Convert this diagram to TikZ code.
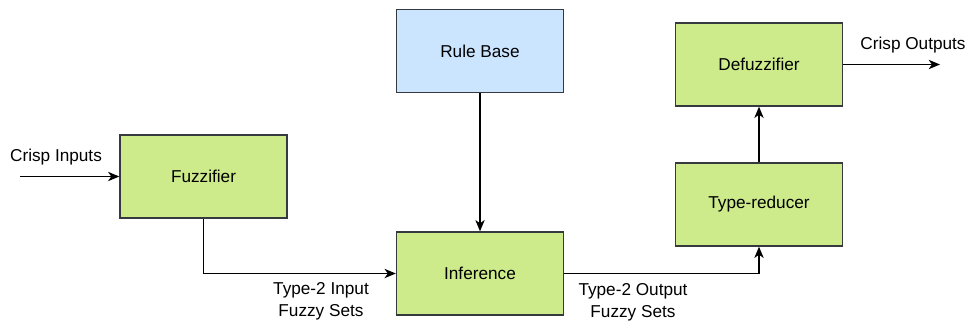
\documentclass[tikz,border=0pt]{standalone}
\usepackage{fontspec}
\setmainfont{Liberation Sans}
\usetikzlibrary{arrows.meta}
\definecolor{blockgreen}{RGB}{205,235,139}
\definecolor{blockblue}{RGB}{204,229,255}
\definecolor{blockline}{RGB}{54,57,61}
\tikzset{
  fzblock/.style={draw=blockline, line width=1pt, minimum width=125.25pt, minimum height=62.25pt, inner sep=0pt, font=\fontsize{12.9}{15}\selectfont},
  fzlabel/.style={align=center, inner sep=0pt, font=\fontsize{12.9}{16.5}\selectfont},
  fzarrow/.style={line width=1pt, -{Stealth[length=8.5pt,width=7pt,inset=2.5pt]}}
}
\begin{document}
\begin{tikzpicture}[x=0.75pt,y=0.75pt,yscale=-1,xscale=1]
\useasboundingbox (0,0) rectangle (966,325);

%Blocks
\node [fzblock, fill=blockgreen] (fuzz) at (203.5,176.5) {Fuzzifier};
\node [fzblock, fill=blockblue] (rules) at (480,51) {Rule Base};
\node [fzblock, fill=blockgreen] (infer) at (480,273.5) {Inference};
\node [fzblock, fill=blockgreen] (reduce) at (759,204.5) {Type-reducer};
\node [fzblock, fill=blockgreen] (defuzz) at (759,64.5) {Defuzzifier};

%Free ends
\coordinate (in) at (20,176.5);
\coordinate (out) at (940,64.5);

%Labels
\node [fzlabel] (inlabel) at (56,157) {Crisp Inputs};
\node [fzlabel] (outlabel) at (913,45) {Crisp Outputs};
\node [fzlabel] (t2in) at (321,301) {Type-2 Input\\Fuzzy Sets};
\node [fzlabel] (t2out) at (633,302) {Type-2 Output\\Fuzzy Sets};

%Connectors
\draw [fzarrow] (in) -- (fuzz.west);
\draw [fzarrow] (fuzz.south) |- (infer.west);
\draw [fzarrow] (rules.south) -- (infer.north);
\draw [fzarrow] (infer.east) -| (reduce.south);
\draw [fzarrow] (reduce.north) -- (defuzz.south);
\draw [fzarrow] (defuzz.east) -- (out);

\end{tikzpicture}
\end{document}
